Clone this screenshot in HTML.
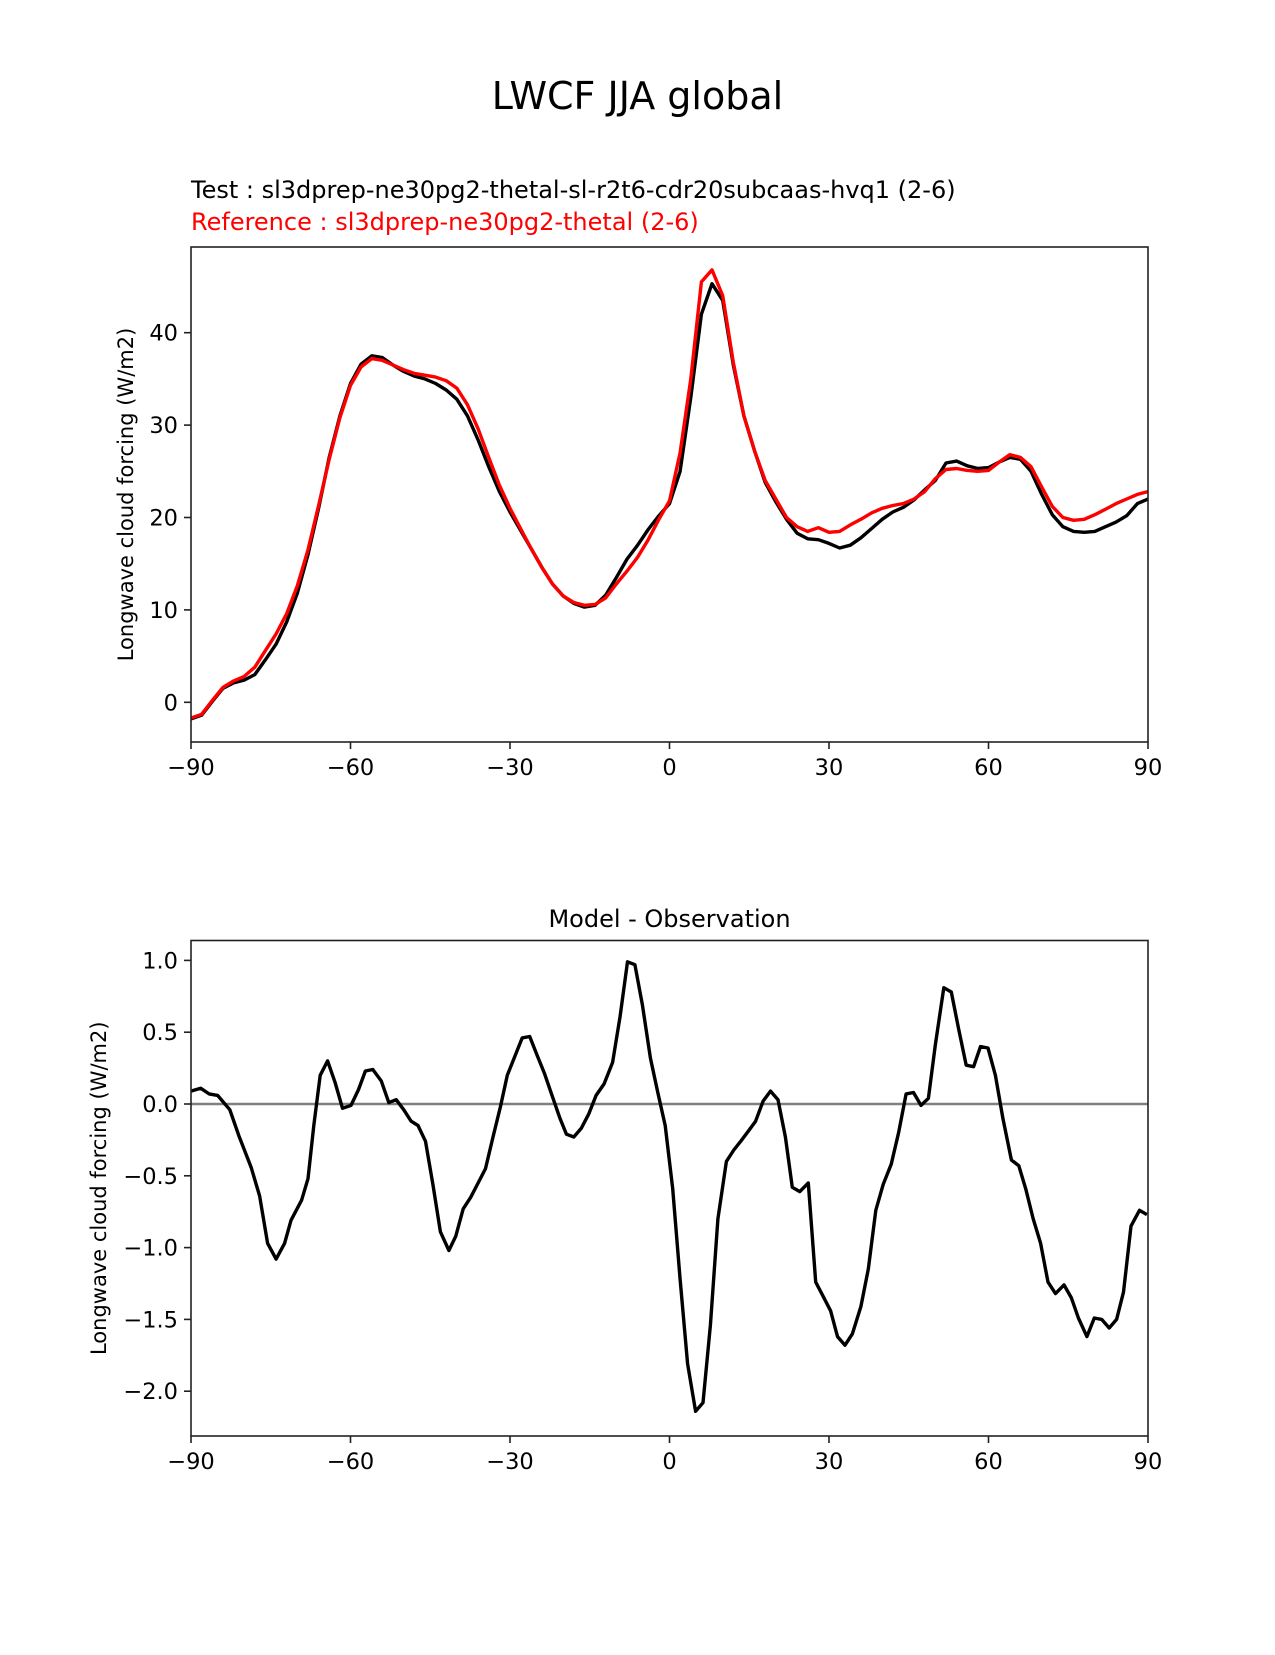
<!DOCTYPE html>
<html><head><meta charset="utf-8"><style>
body{margin:0;background:#fff}
text{font-family:"DejaVu Sans","Liberation Sans",sans-serif}
</style></head><body>
<svg id="fig" width="1275" height="1650" xmlns="http://www.w3.org/2000/svg">
<rect width="1275" height="1650" fill="#fff"/>
<text x="637.5" y="109" font-size="38" text-anchor="middle">LWCF JJA global</text>
<text x="191" y="198" font-size="24">Test : sl3dprep-ne30pg2-thetal-sl-r2t6-cdr20subcaas-hvq1 (2-6)</text>
<text x="191" y="230" font-size="24" fill="#ff0000">Reference : sl3dprep-ne30pg2-thetal (2-6)</text>
<text x="669.5" y="927" font-size="24" text-anchor="middle">Model - Observation</text>
<g id="top"></g>
<g id="bot"></g>
</svg>
<script>
const latTop = [];
for (let l = -90; l <= 90; l += 2) latTop.push(l);
const testVals = [-1.8,-1.4,0.1,1.5,2.1,2.4,3.0,4.6,6.3,8.7,11.8,16,21,26.5,31,34.5,36.6,37.5,37.3,36.5,35.8,35.3,35.0,34.5,33.8,32.8,31.0,28.4,25.5,22.8,20.6,18.6,16.6,14.6,12.8,11.5,10.7,10.3,10.5,11.6,13.5,15.5,17.0,18.7,20.2,21.5,25,33,42,45.3,43.5,36.5,31,27.2,23.8,21.7,19.8,18.3,17.7,17.6,17.2,16.7,17.0,17.8,18.8,19.8,20.6,21.1,21.9,23.0,24.0,25.9,26.1,25.6,25.3,25.4,26.0,26.5,26.3,25.0,22.5,20.3,19.0,18.5,18.4,18.5,19.0,19.5,20.2,21.5,22.0];
const refVals = [-1.7,-1.3,0.2,1.6,2.3,2.8,3.8,5.6,7.4,9.6,12.6,16.5,21.3,26.3,30.8,34.3,36.3,37.2,37.0,36.5,36.0,35.6,35.4,35.2,34.8,34.0,32.2,29.6,26.5,23.5,21.0,18.8,16.6,14.6,12.8,11.5,10.8,10.5,10.6,11.3,12.8,14.2,15.7,17.6,19.8,21.8,27,35,45.5,46.8,44,36.8,31,27.2,24.0,22.0,20.0,19.0,18.5,18.9,18.4,18.5,19.2,19.8,20.5,21.0,21.3,21.5,22.0,22.8,24.2,25.2,25.3,25.1,25.0,25.1,26.0,26.8,26.5,25.5,23.3,21.2,20.0,19.7,19.8,20.3,20.9,21.5,22.0,22.5,22.8];
const latDiff = [-90,-88.2,-86.6,-85,-82.7,-81,-78.7,-77.1,-75.6,-74,-72.4,-71.2,-69.2,-68,-66.9,-65.7,-64.3,-62.9,-61.5,-59.9,-58.5,-57.2,-55.8,-54.2,-52.8,-51.4,-50,-48.6,-47.3,-45.9,-44.5,-43.1,-41.5,-40.2,-38.8,-37.4,-36,-34.6,-33.2,-31.8,-30.5,-27.7,-26.3,-24.9,-23.5,-22.2,-20.6,-19.4,-18,-16.6,-15.2,-13.8,-12.3,-10.7,-9.3,-7.9,-6.5,-5.1,-3.6,-2.2,-0.8,0.6,2,3.4,4.9,6.3,7.7,9.1,10.7,12.1,13.4,14.8,16.2,17.6,19,20.4,21.8,23.1,24.5,26.1,27.5,28.9,30.3,31.6,33,34.4,36,37.4,38.8,40.2,41.7,43.1,44.5,45.9,47.3,48.7,50,51.6,53,54.4,55.8,57.2,58.5,59.9,61.3,62.7,64.3,65.7,67,68.4,69.8,71.2,72.6,74.2,75.6,76.9,78.5,79.9,81.3,82.7,84.1,85.4,86.8,88.4,89.8];
const diffVals = [0.09,0.11,0.07,0.06,-0.04,-0.22,-0.44,-0.64,-0.97,-1.08,-0.97,-0.81,-0.67,-0.52,-0.15,0.2,0.3,0.15,-0.03,-0.01,0.1,0.23,0.24,0.16,0.01,0.03,-0.04,-0.12,-0.15,-0.26,-0.56,-0.89,-1.02,-0.92,-0.73,-0.65,-0.55,-0.45,-0.23,-0.02,0.2,0.46,0.47,0.34,0.21,0.07,-0.1,-0.21,-0.23,-0.17,-0.07,0.06,0.14,0.29,0.61,0.99,0.97,0.69,0.32,0.08,-0.15,-0.59,-1.22,-1.81,-2.14,-2.08,-1.54,-0.8,-0.4,-0.32,-0.26,-0.19,-0.12,0.02,0.09,0.03,-0.23,-0.58,-0.61,-0.55,-1.24,-1.34,-1.44,-1.62,-1.68,-1.6,-1.41,-1.15,-0.74,-0.56,-0.42,-0.2,0.07,0.08,-0.01,0.04,0.41,0.81,0.78,0.52,0.27,0.26,0.4,0.39,0.2,-0.1,-0.39,-0.43,-0.59,-0.8,-0.97,-1.24,-1.32,-1.26,-1.35,-1.49,-1.62,-1.49,-1.5,-1.56,-1.5,-1.31,-0.85,-0.74,-0.77];
const xTicks = [-90,-60,-30,0,30,60,90];
const yTicksTop = [0,10,20,30,40];
const yTicksBot = [-2.0,-1.5,-1.0,-0.5,0.0,0.5,1.0];

const NS = "http://www.w3.org/2000/svg";
const L = 191, R = 1148;
const xScale = lat => L + (lat + 90) / 180 * (R - L);
const yTop = v => 702.3 - v * 9.24;
const yBot = v => 1104 - v * 143.6;

function mk(tag, attrs, parent) {
  const e = document.createElementNS(NS, tag);
  for (const k in attrs) e.setAttribute(k, attrs[k]);
  parent.appendChild(e);
  return e;
}
function fmt(v, dec) {
  const s = Math.abs(v).toFixed(dec);
  return (v < 0 ? "\u2212" : "") + s;
}
function panel(g, top, bottom, yS, yTicks, dec, ylabelX, lbl) {
  for (const t of xTicks) {
    const x = xScale(t);
    const tk = mk("line", {x1: x, x2: x, y1: bottom, y2: bottom + 7, stroke: "#222", "stroke-width": 1.6}, g);
    
    
    const tx = mk("text", {x: x, y: bottom + 33, "font-size": 22.5, "text-anchor": "middle"}, g);
    tx.textContent = fmt(t, 0);
    
    
  }
  for (const t of yTicks) {
    const y = yS(t);
    const tk = mk("line", {x1: L - 7, x2: L, y1: y, y2: y, stroke: "#222", "stroke-width": 1.6}, g);
    
    
    const tx = mk("text", {x: L - 13, y: y + 8, "font-size": 22.5, "text-anchor": "end"}, g);
    tx.textContent = fmt(t, dec);
    
    
  }
  const cy = (top + bottom) / 2;
  const yl = mk("text", {x: ylabelX, y: cy, "font-size": 21, "text-anchor": "middle", transform: `rotate(-90 ${ylabelX} ${cy})`}, g);
  yl.textContent = lbl;
  
  
}
function line(g, xs, vs, yS, color, w, name) {
  const pts = xs.map((x, i) => xScale(x).toFixed(1) + "," + yS(vs[i]).toFixed(1)).join(" ");
  const p = mk("polyline", {points: pts, fill: "none", stroke: color, "stroke-width": w, "stroke-linejoin": "round"}, g);
  
  
}
function frame(g, top, bottom) {
  const r = mk("rect", {x: L, y: top, width: R - L, height: bottom - top, fill: "none", stroke: "#222", "stroke-width": 1.6}, g);
  
  
}
const gt = document.getElementById("top");
panel(gt, 247, 742, yTop, yTicksTop, 0, 133, "Longwave cloud forcing (W/m2)");
const clipT = mk("clipPath", {id: "ct"}, gt); mk("rect", {x: L, y: 247, width: R - L, height: 495}, clipT);
const lt = mk("g", {"clip-path": "url(#ct)"}, gt);
line(lt, latTop, testVals, yTop, "#000", 3.4, "test-line");
line(lt, latTop, refVals, yTop, "#ff0000", 3.4, "reference-line");
frame(gt, 247, 742);

const gb = document.getElementById("bot");
panel(gb, 940.5, 1436, yBot, yTicksBot, 1, 106, "Longwave cloud forcing (W/m2)");
const zl = mk("line", {x1: L, x2: R, y1: yBot(0), y2: yBot(0), stroke: "#808080", "stroke-width": 2.4}, gb);


line(gb, latDiff, diffVals, yBot, "#000", 3.4, "difference-line");
frame(gb, 940.5, 1436);
</script>
</body></html>
